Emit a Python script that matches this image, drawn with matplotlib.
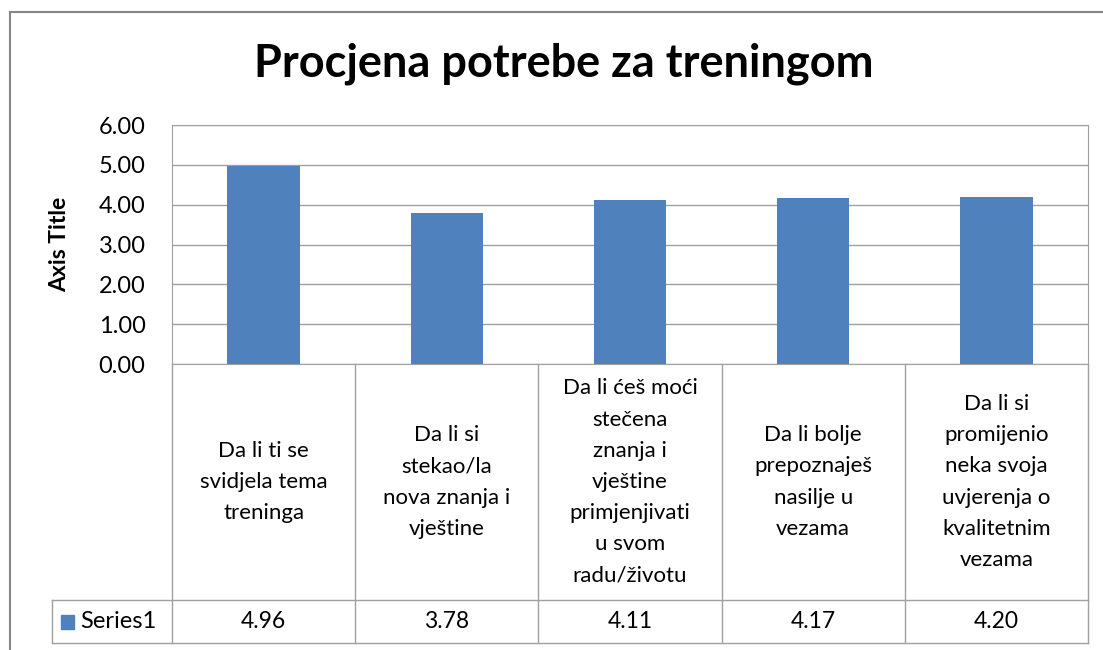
import matplotlib.pyplot as plt
from matplotlib.patches import Rectangle
from matplotlib.transforms import blended_transform_factory

# chart data
categories = [
    "Da li ti se\nsvidjela tema\ntreninga",
    "Da li si\nstekao/la\nnova znanja i\nvještine",
    "Da li ćeš moći\nstečena\nznanja i\nvještine\nprimjenjivati\nu svom\nradu/životu",
    "Da li bolje\nprepoznaješ\nnasilje u\nvezama",
    "Da li si\npromijenio\nneka svoja\nuvjerenja o\nkvalitetnim\nvezama",
]
series_name = "Series1"
values = [4.96, 3.78, 4.11, 4.17, 4.20]
y_ticks = [0, 1, 2, 3, 4, 5, 6]

W, H = 1103, 650
blue = "#4F81BD"
grid_c = "#A0A0A0"
plt.rcParams['font.family'] = ['Lato', 'DejaVu Sans']

fig = plt.figure(figsize=(W / 100, H / 100), dpi=100)
fig.patches.append(Rectangle((10 / W, -0.1), 1.2, 1 - 12 / H + 0.1, transform=fig.transFigure,
                             fill=False, edgecolor="#868686", linewidth=1.5))

ax = fig.add_axes([172 / W, 1 - 364 / H, (1088 - 172) / W, (364 - 125) / H])
x = range(len(values))
ax.bar(x, values, width=0.395, color=blue, zorder=3)
ax.set_xlim(-0.5, len(values) - 0.5)
ax.set_ylim(0, 6)
ax.set_yticks(y_ticks)
ax.set_yticklabels([f"{v:.2f}" for v in y_ticks], fontsize=17)
ax.set_xticks([])
ax.tick_params(axis="y", length=0, pad=19)
ax.grid(axis="y", color=grid_c, linewidth=1, zorder=0)
for s in ax.spines.values():
    s.set_color(grid_c)
ax.set_ylabel("Axis Title", fontsize=16.5, fontweight="bold")
ax.yaxis.set_label_coords(-0.111, 0.5)

fig.text(0.511, 1 - 64 / H, "Procjena potrebe za treningom", ha="center", va="center",
         fontsize=32.5, fontweight="bold")

# data table under the axis
tr = blended_transform_factory(ax.transData, ax.transAxes)
row1 = -(600 - 364) / (364 - 125)
row2 = -(643 - 364) / (364 - 125)
col_w = (1088 - 172) / len(values)
left_x = -0.5 - (172 - 52) / col_w
n = len(values)
kw = dict(color=grid_c, linewidth=1, transform=tr, clip_on=False)
for i in range(n + 1):
    ax.plot([i - 0.5, i - 0.5], [0, row2], **kw)
ax.plot([left_x, left_x], [row1, row2], **kw)
ax.plot([left_x, n - 0.5], [row1, row1], **kw)
ax.plot([left_x, n - 0.5], [row2, row2], **kw)

mid2 = (row1 + row2) / 2
for i, (c, v) in enumerate(zip(categories, values)):
    ax.text(i, row1 / 2, c, transform=tr, ha="center", va="center", fontsize=16,
            linespacing=1.7, clip_on=False)
    ax.text(i, mid2, f"{v:.2f}", transform=tr, ha="center", va="center",
            fontsize=16.5, clip_on=False)

key_w = 13 / col_w
key_h = 14 / (364 - 125)
ax.add_patch(Rectangle((left_x + 9 / col_w, mid2 - key_h / 2), key_w, key_h, transform=tr,
                       color=blue, clip_on=False))
ax.text(left_x + 28 / col_w, mid2, series_name, transform=tr,
        ha="left", va="center", fontsize=17, clip_on=False)

fig.savefig("out.png", dpi=100)
